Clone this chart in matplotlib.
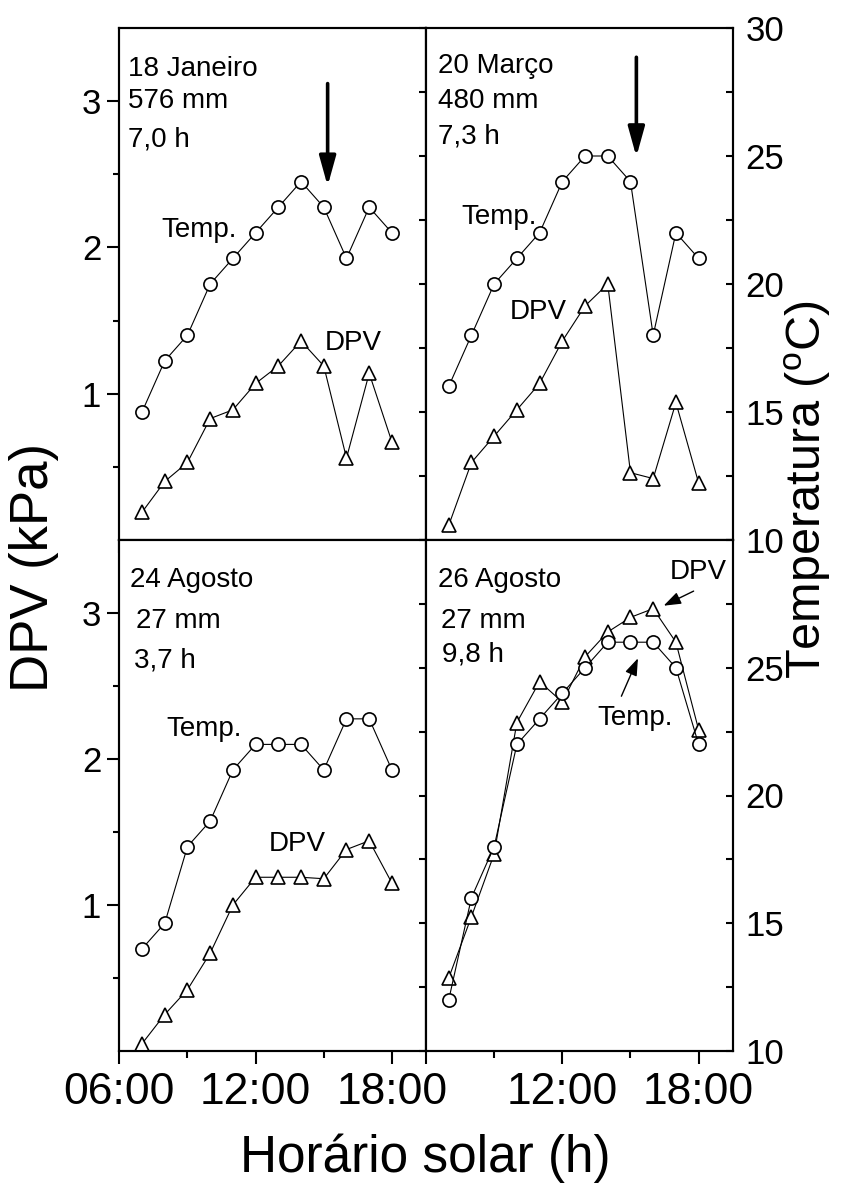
import matplotlib
matplotlib.use('Agg')
import matplotlib.pyplot as plt
from matplotlib.ticker import FixedLocator, FixedFormatter

plt.rcParams['font.family'] = ['Liberation Sans', 'DejaVu Sans']
plt.rcParams['mathtext.fontset'] = 'custom'
plt.rcParams['mathtext.rm'] = 'Liberation Sans'
plt.rcParams['mathtext.it'] = 'Liberation Sans:italic'

# ---------------- data ----------------
hours = [7, 8, 9, 10, 11, 12, 13, 14, 15, 16, 17, 18]

dpv_jan18 = [0.19, 0.40, 0.53, 0.83, 0.89, 1.07, 1.19, 1.36, 1.19, 0.56, 1.14, 0.67]
temp_jan18 = [15, 17, 18, 20, 21, 22, 23, 24, 23, 21, 23, 22]

dpv_mar20 = [0.10, 0.53, 0.71, 0.89, 1.07, 1.36, 1.60, 1.75, 0.46, 0.42, 0.94, 0.39]
temp_mar20 = [16, 18, 20, 21, 22, 24, 25, 25, 24, 18, 22, 21]

dpv_aug24 = [0.05, 0.25, 0.42, 0.67, 1.00, 1.19, 1.19, 1.19, 1.18, 1.38, 1.44, 1.15]
temp_aug24 = [14, 15, 18, 19, 21, 22, 22, 22, 21, 23, 23, 21]

dpv_aug26 = [0.50, 0.92, 1.35, 2.25, 2.53, 2.39, 2.70, 2.87, 2.97, 3.03, 2.80, 2.20]
temp_aug26 = [12, 16, 18, 22, 23, 24, 25, 26, 26, 26, 25, 22]

panel_titles = [["18 Janeiro", "576 mm", "7,0 h"],
                ["20 Março", "480 mm", "7,3 h"],
                ["24 Agosto", "27 mm", "3,7 h"],
                ["26 Agosto", "27 mm", "9,8 h"]]

x_major = [6, 12, 18]
x_minor = [9, 15]
x_labels = ["06:00", "12:00", "18:00"]
dpv_major = [1, 2, 3]
dpv_minor = [0.5, 1.5, 2.5]
temp_major = [10, 15, 20, 25, 30]
temp_minor = [12.5, 17.5, 22.5, 27.5]

# ---------------- figure ----------------
W, H = 863, 1191
fig = plt.figure(figsize=(W / 100, H / 100), dpi=100)

x_left = [119.3, 426.0]
pw = 306.7
y_top = [28.0, 540.0]
y_bot = [540.0, 1051.0]


def make_axes(col, row):
    x0 = x_left[col]
    yt, yb = (y_top if row == 0 else y_bot)
    return fig.add_axes([x0 / W, (H - yb) / H, pw / W, (yb - yt) / H])


datasets = [(dpv_jan18, temp_jan18), (dpv_mar20, temp_mar20),
            (dpv_aug24, temp_aug24), (dpv_aug26, temp_aug26)]

axes = []
for i, (dpv, temp) in enumerate(datasets):
    row, col = divmod(i, 2)
    ax = make_axes(col, row)
    tw = ax.twinx()
    ax.set_xlim(6, 19.5)
    ax.set_ylim(0, 3.5)
    tw.set_ylim(10, 30)
    for a in (ax, tw):
        for s in a.spines.values():
            s.set_linewidth(1.5)

    ax.plot(hours, dpv, '-^', color='black', lw=0.8, ms=10.5, mfc='white',
            mec='black', mew=1.2, clip_on=False, zorder=3)
    tw.plot(hours, temp, '-o', color='black', lw=0.8, ms=9.5, mfc='white',
            mec='black', mew=1.2, clip_on=False, zorder=3)

    # x ticks
    ax.xaxis.set_major_locator(FixedLocator(x_major))
    ax.xaxis.set_minor_locator(FixedLocator(x_minor))
    ax.tick_params(axis='x', which='major', direction='out', length=9,
                   width=1.5, labelsize=32, pad=6)
    ax.tick_params(axis='x', which='minor', direction='out', length=5,
                   width=1.5)
    if row == 1:
        labs = list(x_labels) if col == 0 else [""] + x_labels[1:]
        ax.xaxis.set_major_formatter(FixedFormatter(labs))
    else:
        ax.tick_params(axis='x', which='both', labelbottom=False)

    # left (DPV) ticks
    if col == 0:
        ax.yaxis.set_major_locator(FixedLocator(dpv_major))
        ax.yaxis.set_minor_locator(FixedLocator(dpv_minor))
        ax.yaxis.set_major_formatter(FixedFormatter([str(v) for v in dpv_major]))
        ax.tick_params(axis='y', which='major', direction='out', length=9,
                       width=1.5, labelsize=25, pad=4)
        ax.tick_params(axis='y', which='minor', direction='out', length=4.5,
                       width=1.5)
    else:
        ax.yaxis.set_major_locator(FixedLocator([]))
        ax.yaxis.set_minor_locator(FixedLocator([]))
        ax.tick_params(axis='y', which='both', length=0, labelleft=False)

    # right (temperature) ticks
    tw.yaxis.set_major_locator(FixedLocator(temp_major))
    tw.yaxis.set_minor_locator(FixedLocator(temp_minor))
    tw.tick_params(axis='y', which='major', direction='in', length=5,
                   width=1.5, labelsize=25, pad=9)
    tw.tick_params(axis='y', which='minor', direction='in', length=5,
                   width=1.5)
    if col == 1:
        labs = [str(v) for v in temp_major]
        if row == 1:
            labs[-1] = ""
        tw.yaxis.set_major_formatter(FixedFormatter(labs))
    else:
        tw.tick_params(axis='y', which='both', labelright=False)

    axes.append((ax, tw))

# ---------------- annotations ----------------
fs = 20
# panel labels (x, baseline y in DPV data coordinates)
title_pos = [
    [(6.40, 3.17), (6.40, 2.95), (6.40, 2.69)],
    [(6.54, 3.19), (6.54, 2.95), (6.54, 2.71)],
    [(6.47, 3.18), (6.74, 2.90), (6.65, 2.63)],
    [(6.54, 3.18), (6.65, 2.90), (6.69, 2.67)],
]
for i, (ax, tw) in enumerate(axes):
    for txt, (x, y) in zip(panel_titles[i], title_pos[i]):
        ax.text(x, y, txt, fontsize=fs, ha='left', va='baseline')

ax1, ax2, ax3, ax4 = [a[0] for a in axes]
ax1.text(7.87, 2.07, "Temp.", fontsize=fs, ha='left', va='baseline')
ax1.text(15.05, 1.30, "DPV", fontsize=fs, ha='left', va='baseline')
ax2.text(7.57, 2.16, "Temp.", fontsize=fs, ha='left', va='baseline')
ax2.text(9.67, 1.51, "DPV", fontsize=fs, ha='left', va='baseline')
ax3.text(8.09, 2.16, "Temp.", fontsize=fs, ha='left', va='baseline')
ax3.text(12.57, 1.37, "DPV", fontsize=fs, ha='left', va='baseline')
ax4.text(16.74, 3.23, "DPV", fontsize=fs, ha='left', va='baseline')
ax4.text(13.53, 2.23, "Temp.", fontsize=fs, ha='left', va='baseline')

big_arrow = dict(arrowstyle='-|>,head_length=0.9,head_width=0.25',
                 lw=2.6, color='black', mutation_scale=20,
                 shrinkA=0, shrinkB=0)
ax1.annotate('', xy=(15.17, 2.42), xytext=(15.17, 3.12), arrowprops=big_arrow)
ax2.annotate('', xy=(15.26, 2.62), xytext=(15.26, 3.30), arrowprops=big_arrow)

small_arrow = dict(arrowstyle='-|>,head_length=0.7,head_width=0.25',
                   lw=1.0, color='black', mutation_scale=15,
                   shrinkA=0, shrinkB=0)
ax4.annotate('', xy=(16.46, 3.05), xytext=(17.78, 3.15), arrowprops=small_arrow)
ax4.annotate('', xy=(15.33, 2.69), xytext=(14.60, 2.43), arrowprops=small_arrow)

# ---------------- axis titles ----------------
fig.text(34 / W, 1 - 567 / H, "DPV (kPa)", rotation=90, fontsize=38,
         ha='center', va='center')
fig.text(808 / W, 1 - 490 / H, r"Temperatura ($^{\mathrm{o}}$C)", rotation=90,
         fontsize=35, ha='center', va='center')
fig.text(425 / W, 1 - 1172 / H, "Horário solar (h)", fontsize=37,
         ha='center', va='baseline')

fig.savefig('out.png', dpi=100)
